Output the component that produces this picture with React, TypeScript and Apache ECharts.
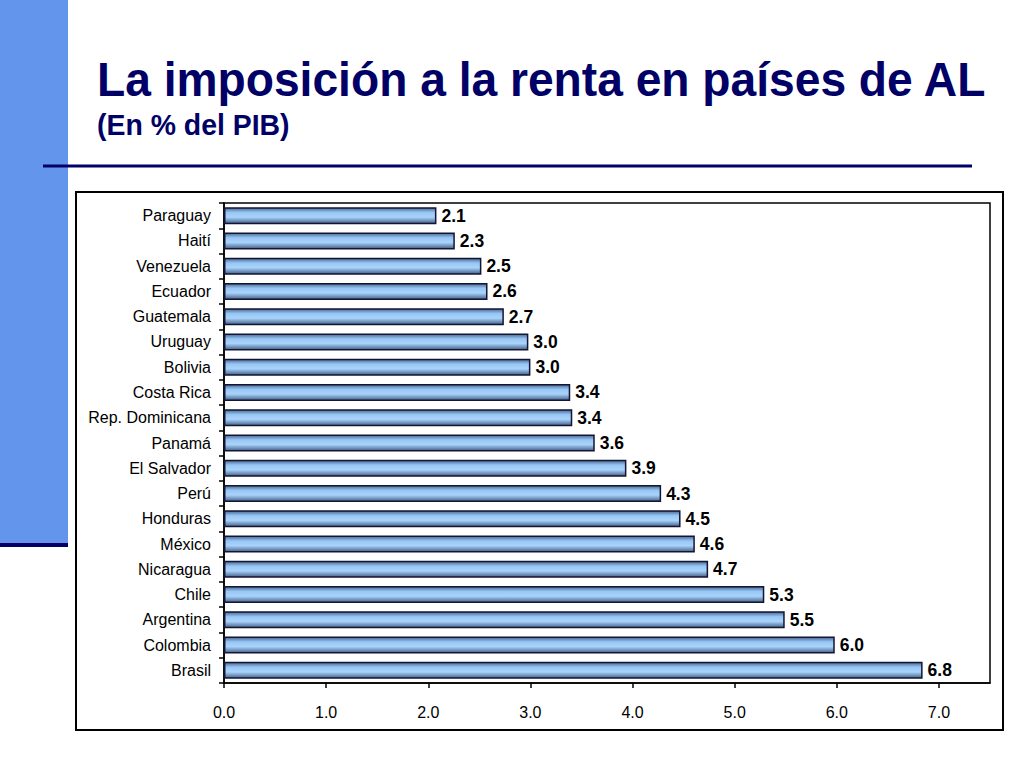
import React, { useEffect, useRef } from "react";
import * as echarts from "echarts";

const countries = [
  "Paraguay", "Haití", "Venezuela", "Ecuador", "Guatemala", "Uruguay", "Bolivia",
  "Costa Rica", "Rep. Dominicana", "Panamá", "El Salvador", "Perú", "Honduras",
  "México", "Nicaragua", "Chile", "Argentina", "Colombia", "Brasil",
];
const values = [
  2.08, 2.26, 2.52, 2.58, 2.74, 2.98, 3.0, 3.39, 3.41, 3.63, 3.94, 4.28, 4.47,
  4.61, 4.74, 5.29, 5.49, 5.98, 6.84,
];
const xTicks = [0, 1, 2, 3, 4, 5, 6, 7];
const titleText = "La imposición a la renta en países de AL";
const subtitleText = "(En % del PIB)";

const NAVY = "#000066";

export default function App() {
  const ref = useRef<HTMLDivElement>(null);
  useEffect(() => {
    if (!ref.current) return;
    const chart = echarts.init(ref.current, null, { renderer: "svg" });
    const font = "'Liberation Sans', Arial, sans-serif";
    chart.setOption({
      animation: false,
      backgroundColor: "#ffffff",
      graphic: [
        { type: "rect", shape: { x: 0, y: 0, width: 68, height: 543 }, style: { fill: "#6495ED" }, silent: true },
        { type: "rect", shape: { x: 0, y: 543, width: 68, height: 4 }, style: { fill: NAVY }, silent: true },
        { type: "line", shape: { x1: 43, y1: 166, x2: 972, y2: 166 }, style: { stroke: NAVY, lineWidth: 3 }, silent: true },
        {
          type: "text", left: 97, top: 55, scaleX: 0.962,
          style: { text: titleText, fill: NAVY, font: `bold 48px ${font}` },
          silent: true,
        },
        {
          type: "text", left: 97, top: 110, scaleX: 0.98,
          style: { text: subtitleText, fill: NAVY, font: `bold 29px ${font}` },
          silent: true,
        },
        {
          type: "rect", shape: { x: 76, y: 192, width: 927, height: 538 },
          style: { fill: "none", stroke: "#000", lineWidth: 2 }, silent: true, z: 10,
        },
      ],
      grid: {
        left: 224, right: 34, top: 203, bottom: 85,
        show: true, borderColor: "#000", borderWidth: 1.5, backgroundColor: "transparent",
      },
      xAxis: {
        type: "value", min: 0, max: 7.5, interval: 1,
        splitLine: { show: false },
        axisLine: { show: true, lineStyle: { color: "#000", width: 1.5 } },
        axisTick: { show: true, length: 5, lineStyle: { color: "#000", width: 1.5 }, customValues: xTicks },
        axisLabel: {
          color: "#000", fontSize: 16, fontFamily: font, margin: 21,
          customValues: xTicks,
          formatter: (v: number) => v.toFixed(1),
        },
      },
      yAxis: {
        type: "category", data: countries, inverse: true,
        axisLine: { show: true, lineStyle: { color: "#000", width: 1.5 } },
        axisTick: { show: true, length: 5, lineStyle: { color: "#000", width: 1.5 } },
        axisLabel: { color: "#000", fontSize: 16, fontFamily: font, margin: 13 },
      },
      series: [
        {
          type: "bar",
          data: values,
          barWidth: 17,
          itemStyle: {
            color: new echarts.graphic.LinearGradient(0, 0, 0, 1, [
              { offset: 0, color: "#4a6a94" },
              { offset: 0.3, color: "#98c7f5" },
              { offset: 0.6, color: "#a9d3fb" },
              { offset: 1, color: "#44618a" },
            ]),
            borderColor: "#141433",
            borderWidth: 1.5,
          },
          label: {
            show: true, position: "right", distance: 5,
            color: "#000", fontSize: 17.5, fontWeight: "bold", fontFamily: font,
            formatter: (p: any) => (p.value as number).toFixed(1),
          },
        },
      ],
    });
    return () => chart.dispose();
  }, []);
  return (
    <div
      ref={ref}
      style={{ position: "fixed", left: 0, top: 0, width: 1024, height: 768 }}
    />
  );
}
